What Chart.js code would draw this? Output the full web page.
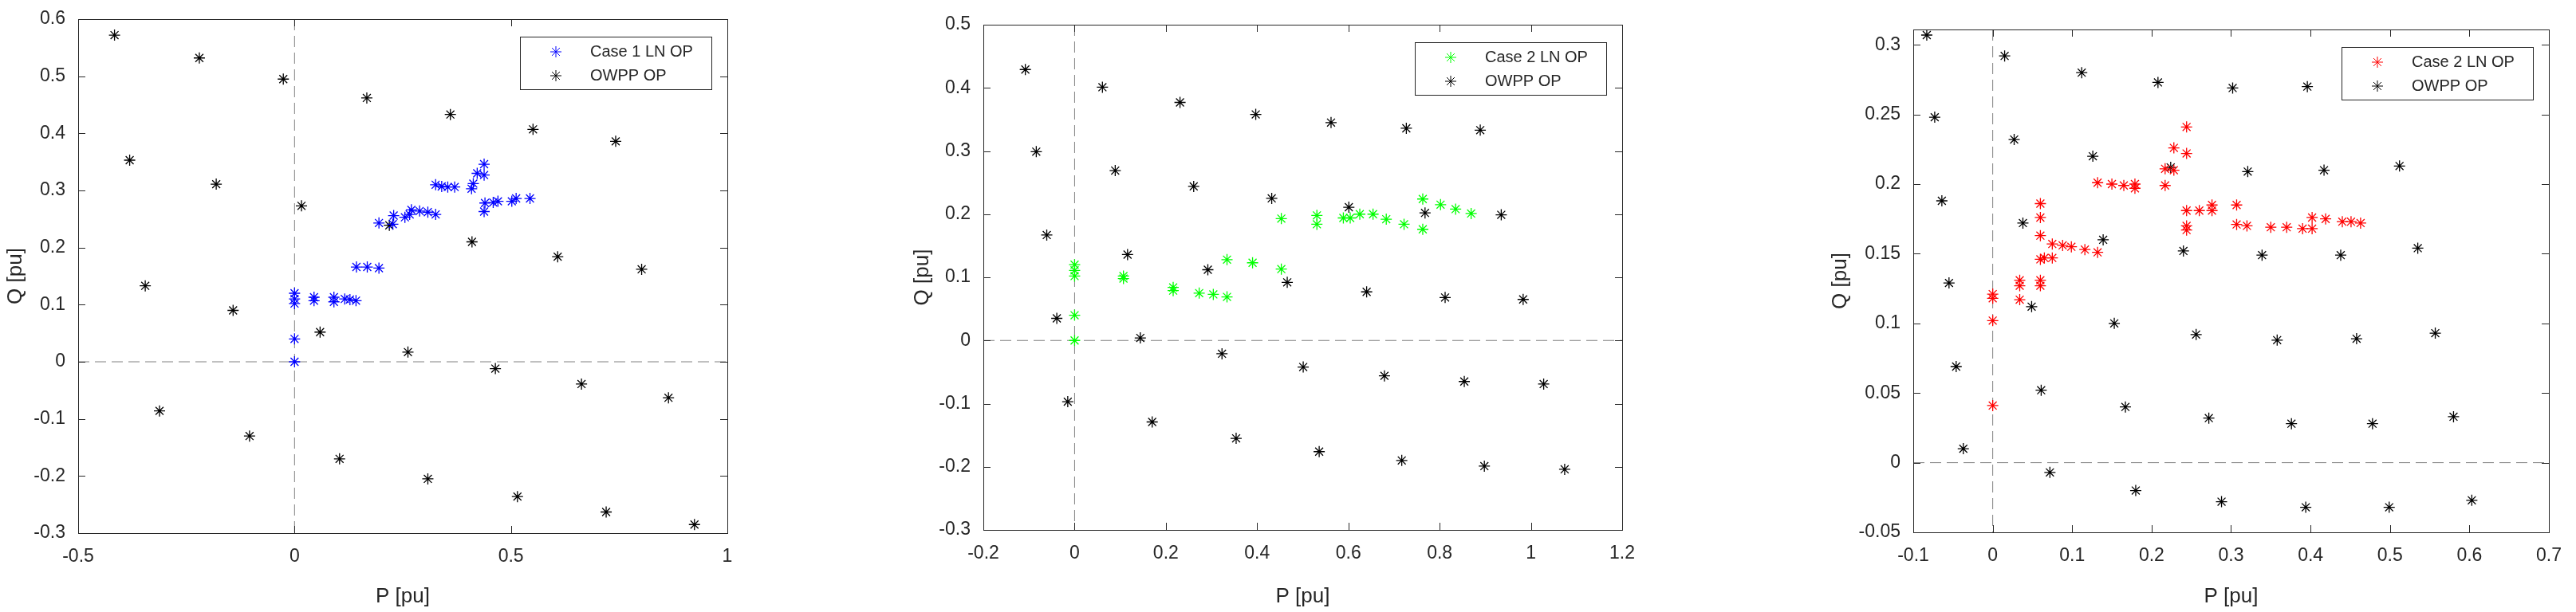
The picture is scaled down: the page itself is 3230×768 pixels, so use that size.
<!DOCTYPE html>
<html>
<head>
<meta charset="utf-8">
<script src="https://cdn.jsdelivr.net/npm/chart.js@4"></script>
<style>
  body { margin: 0; background: #fff; }
  .panel { position: absolute; top: 0; height: 768px; }
</style>
</head>
<body>
<div class="panel" id="p1" style="left:0px;width:1000px"><canvas id="c1"></canvas></div>
<div class="panel" id="p2" style="left:1137px;width:940px"><canvas id="c2"></canvas></div>
<div class="panel" id="p3" style="left:2288px;width:942px"><canvas id="c3"></canvas></div>
<script>
// OWPP operating points and line node operating points
const owpp1P = [-0.416, -0.220, -0.026, 0.167, 0.360, 0.551, 0.742, -0.381, -0.181, 0.016, 0.219, 0.410, 0.608, 0.802, -0.345, -0.142, 0.059, 0.262, 0.464, 0.663, 0.864, -0.312, -0.104, 0.104, 0.308, 0.515, 0.720, 0.924];
const owpp1Q = [0.572, 0.532, 0.495, 0.462, 0.433, 0.407, 0.386, 0.353, 0.311, 0.273, 0.239, 0.210, 0.184, 0.162, 0.133, 0.090, 0.052, 0.017, -0.012, -0.039, -0.063, -0.086, -0.130, -0.170, -0.205, -0.236, -0.263, -0.285];
const case1P = [0, 0, 0, 0, 0, 0.045, 0.045, 0.091, 0.091, 0.116, 0.128, 0.142, 0.143, 0.168, 0.195, 0.195, 0.227, 0.229, 0.255, 0.266, 0.270, 0.289, 0.308, 0.326, 0.326, 0.340, 0.354, 0.370, 0.409, 0.413, 0.422, 0.438, 0.438, 0.438, 0.440, 0.459, 0.470, 0.502, 0.512, 0.544];
const case1Q = [0, 0.040, 0.102, 0.110, 0.120, 0.113, 0.107, 0.113, 0.105, 0.110, 0.109, 0.107, 0.166, 0.166, 0.164, 0.243, 0.241, 0.256, 0.253, 0.258, 0.266, 0.264, 0.262, 0.258, 0.310, 0.307, 0.306, 0.306, 0.303, 0.312, 0.330, 0.327, 0.346, 0.263, 0.278, 0.279, 0.281, 0.281, 0.286, 0.286];

const owpp2P = [-0.108, 0.061, 0.231, 0.397, 0.562, 0.727, 0.889, -0.084, 0.089, 0.261, 0.432, 0.601, 0.768, 0.935, -0.061, 0.116, 0.292, 0.466, 0.640, 0.812, 0.983, -0.039, 0.144, 0.323, 0.501, 0.679, 0.854, 1.028, -0.015, 0.170, 0.354, 0.536, 0.717, 0.898, 1.074];
const owpp2Q = [0.429, 0.401, 0.377, 0.358, 0.345, 0.336, 0.333, 0.299, 0.269, 0.244, 0.225, 0.211, 0.202, 0.199, 0.167, 0.136, 0.112, 0.092, 0.077, 0.068, 0.065, 0.035, 0.004, -0.021, -0.042, -0.056, -0.065, -0.069, -0.097, -0.129, -0.155, -0.176, -0.190, -0.199, -0.204];
const case2P = [0, 0, 0, 0, 0, 0.107, 0.107, 0.216, 0.216, 0.273, 0.304, 0.334, 0.334, 0.390, 0.453, 0.453, 0.531, 0.531, 0.589, 0.604, 0.625, 0.654, 0.683, 0.722, 0.763, 0.763, 0.802, 0.835, 0.869];
const case2Q = [0, 0.040, 0.102, 0.111, 0.120, 0.102, 0.098, 0.084, 0.079, 0.075, 0.073, 0.069, 0.128, 0.123, 0.113, 0.193, 0.198, 0.184, 0.194, 0.194, 0.200, 0.200, 0.192, 0.184, 0.176, 0.224, 0.215, 0.208, 0.201];

const owpp3P = [-0.083, 0.015, 0.112, 0.208, 0.302, 0.396, -0.073, 0.027, 0.126, 0.224, 0.321, 0.417, 0.512, -0.064, 0.038, 0.139, 0.240, 0.339, 0.438, 0.535, -0.055, 0.049, 0.153, 0.256, 0.358, 0.458, 0.557, -0.046, 0.061, 0.167, 0.272, 0.376, 0.478, 0.580, -0.037, 0.072, 0.180, 0.288, 0.394, 0.499, 0.603];
const owpp3Q = [0.307, 0.292, 0.280, 0.273, 0.269, 0.270, 0.248, 0.232, 0.220, 0.212, 0.209, 0.210, 0.213, 0.188, 0.172, 0.160, 0.152, 0.149, 0.149, 0.154, 0.129, 0.112, 0.100, 0.092, 0.088, 0.089, 0.093, 0.069, 0.052, 0.040, 0.032, 0.028, 0.028, 0.033, 0.010, -0.007, -0.020, -0.028, -0.032, -0.032, -0.027];
const case3P = [0, 0, 0, 0, 0.034, 0.034, 0.034, 0.060, 0.060, 0.060, 0.060, 0.060, 0.060, 0.065, 0.075, 0.075, 0.088, 0.099, 0.116, 0.132, 0.132, 0.150, 0.165, 0.179, 0.179, 0.217, 0.217, 0.228, 0.228, 0.244, 0.244, 0.244, 0.244, 0.244, 0.260, 0.276, 0.276, 0.307, 0.307, 0.320, 0.350, 0.370, 0.390, 0.402, 0.402, 0.419, 0.440, 0.451, 0.463];
const case3Q = [0.041, 0.102, 0.118, 0.121, 0.117, 0.127, 0.131, 0.127, 0.131, 0.146, 0.163, 0.176, 0.186, 0.147, 0.147, 0.157, 0.156, 0.155, 0.153, 0.151, 0.201, 0.200, 0.199, 0.200, 0.197, 0.199, 0.211, 0.210, 0.226, 0.222, 0.241, 0.181, 0.170, 0.167, 0.181, 0.185, 0.181, 0.185, 0.171, 0.170, 0.169, 0.169, 0.168, 0.168, 0.176, 0.175, 0.173, 0.173, 0.172];

const legendLabels = [['Case 1 LN OP', 'OWPP OP'], ['Case 2 LN OP', 'OWPP OP'], ['Case 2 LN OP', 'OWPP OP']];

const FONT = 'Liberation Sans, Arial, sans-serif';
const TXT = '#262626';

function pts(xs, ys) { return xs.map((x, i) => ({ x: x, y: ys[i] })); }
function fmt(v) { return String(+v.toFixed(3)); }

// MATLAB-like box, inward ticks, dashed zero lines and inside legend
const matlabBox = {
  id: 'matlabBox',
  beforeDatasetsDraw(chart) {
    const ctx = chart.ctx, a = chart.chartArea;
    const sx = chart.scales.x, sy = chart.scales.y;
    ctx.save();
    ctx.strokeStyle = '#808080';
    ctx.lineWidth = 1;
    ctx.setLineDash([14, 7]);
    const x0 = sx.getPixelForValue(0), y0 = sy.getPixelForValue(0);
    ctx.beginPath();
    ctx.moveTo(x0, a.top); ctx.lineTo(x0, a.bottom);
    ctx.moveTo(a.left, y0); ctx.lineTo(a.right, y0);
    ctx.stroke();
    ctx.restore();
  },
  afterDraw(chart) {
    const ctx = chart.ctx, a = chart.chartArea;
    const sx = chart.scales.x, sy = chart.scales.y;
    ctx.save();
    ctx.strokeStyle = '#262626';
    ctx.lineWidth = 1;
    ctx.strokeRect(a.left + 0.5, a.top + 0.5, a.right - a.left, a.bottom - a.top);
    ctx.beginPath();
    sx.ticks.forEach(t => {
      const p = Math.round(sx.getPixelForValue(t.value)) + 0.5;
      ctx.moveTo(p, a.bottom); ctx.lineTo(p, a.bottom - 9);
      ctx.moveTo(p, a.top); ctx.lineTo(p, a.top + 9);
    });
    sy.ticks.forEach(t => {
      const p = Math.round(sy.getPixelForValue(t.value)) + 0.5;
      ctx.moveTo(a.left, p); ctx.lineTo(a.left + 9, p);
      ctx.moveTo(a.right, p); ctx.lineTo(a.right - 9, p);
    });
    ctx.stroke();

    // legend box
    const lw = 240, lh = 66;
    const lx = a.right - 20 - lw, ly = a.top + 22;
    ctx.fillStyle = '#fff';
    ctx.fillRect(lx, ly, lw, lh);
    ctx.strokeRect(lx + 0.5, ly + 0.5, lw, lh);
    ctx.font = '20px ' + FONT;
    ctx.textBaseline = 'middle';
    chart.data.datasets.forEach((ds, i) => {
      const ry = ly + 19 + i * 30;
      ctx.strokeStyle = ds.borderColor;
      ctx.fillStyle = ds.borderColor;
      Chart.helpers.drawPoint(ctx, { pointStyle: 'star', radius: 7, borderWidth: 1.3 }, lx + 45, ry);
      ctx.fillStyle = TXT;
      ctx.fillText(ds.label, lx + 88, ry);
    });
    ctx.restore();
  }
};

function makeChart(id, caseP, caseQ, owP, owQ, color, labels, xr, yr, box) {
  new Chart(document.getElementById(id), {
    type: 'scatter',
    data: {
      datasets: [
        { label: labels[0], data: pts(caseP, caseQ), pointStyle: 'star', pointRadius: 7, pointBorderWidth: 1.3, borderColor: color, backgroundColor: color },
        { label: labels[1], data: pts(owP, owQ), pointStyle: 'star', pointRadius: 7, pointBorderWidth: 1.3, borderColor: '#000', backgroundColor: '#000' }
      ]
    },
    options: {
      responsive: true,
      maintainAspectRatio: false,
      animation: false,
      layout: { padding: { top: box.top, right: box.L + box.W - box.right, left: 0, bottom: 0 } },
      plugins: { legend: { display: false }, tooltip: { enabled: false } },
      scales: {
        x: {
          type: 'linear', min: xr[0], max: xr[1],
          ticks: { stepSize: xr[2], color: TXT, font: { family: FONT, size: 23 }, padding: 8, callback: fmt, maxRotation: 0 },
          grid: { display: false },
          border: { display: false },
          title: { display: true, text: 'P [pu]', color: TXT, font: { family: FONT, size: 26 }, padding: { top: 6 } },
          afterFit(s) { s.height = 768 - box.bottom; }
        },
        y: {
          type: 'linear', min: yr[0], max: yr[1],
          ticks: { stepSize: yr[2], color: TXT, font: { family: FONT, size: 23 }, padding: 8, callback: fmt },
          afterBuildTicks(s) {
            const out = [];
            const n0 = Math.ceil(yr[0] / yr[2] - 1e-6), n1 = Math.floor(yr[1] / yr[2] + 1e-6);
            for (let n = n0; n <= n1; n++) out.push({ value: +(n * yr[2]).toFixed(4) });
            s.ticks = out;
          },
          grid: { display: false },
          border: { display: false },
          title: { display: true, text: 'Q [pu]', color: TXT, font: { family: FONT, size: 26 } },
          afterFit(s) { s.width = box.left - box.L; }
        }
      }
    },
    plugins: [matlabBox]
  });
}

makeChart('c1', case1P, case1Q, owpp1P, owpp1Q, '#0000ff', legendLabels[0], [-0.5, 1, 0.5], [-0.3, 0.6, 0.1],
  { L: 0, W: 1000, left: 98, right: 912, top: 24, bottom: 669 });
makeChart('c2', case2P, case2Q, owpp2P, owpp2Q, '#00ff00', legendLabels[1], [-0.2, 1.2, 0.2], [-0.3, 0.5, 0.1],
  { L: 1137, W: 940, left: 1233, right: 2034, top: 31, bottom: 665 });
makeChart('c3', case3P, case3Q, owpp3P, owpp3Q, '#ff0000', legendLabels[2], [-0.1, 0.7, 0.1], [-0.05, 0.311, 0.05],
  { L: 2288, W: 942, left: 2399, right: 3196, top: 37, bottom: 668 });
</script>
</body>
</html>
